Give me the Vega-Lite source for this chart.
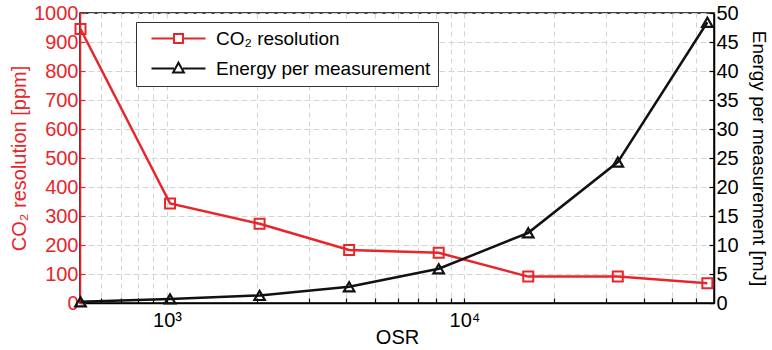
{
  "$schema": "https://vega.github.io/schema/vega-lite/v6.json",
  "autosize": {"type": "none"},
  "width": 634,
  "height": 290,
  "padding": {"left": 80, "top": 13, "right": 58, "bottom": 47},
  "config": {
    "font": "Liberation Sans",
    "view": {"stroke": "black", "strokeWidth": 1.5},
    "axis": {
      "labelFontSize": 20,
      "titleFontSize": 20,
      "titleFontWeight": "normal",
      "gridColor": "#d4d4d4",
      "gridDash": [5, 4],
      "gridWidth": 1,
      "tickSize": -5,
      "tickWidth": 1.2,
      "domainWidth": 1.5
    }
  },
  "data": {
    "values": [
      {"osr": 512, "co2": 945, "energy": 0.2},
      {"osr": 1024, "co2": 343, "energy": 0.7},
      {"osr": 2048, "co2": 273, "energy": 1.3},
      {"osr": 4096, "co2": 183, "energy": 2.8},
      {"osr": 8192, "co2": 173, "energy": 5.9},
      {"osr": 16384, "co2": 91, "energy": 12.1},
      {"osr": 32768, "co2": 91, "energy": 24.3},
      {"osr": 65536, "co2": 68, "energy": 48.4}
    ]
  },
  "encoding": {
    "x": {
      "field": "osr",
      "type": "quantitative",
      "scale": {"type": "log", "domain": [510, 69000], "nice": false},
      "axis": {
        "title": "OSR",
        "titleColor": "black",
        "titlePadding": -3,
        "labelPadding": 12,
        "domainColor": "black",
        "tickColor": "black",
        "labelColor": "black",
        "values": [600, 700, 800, 900, 1000, 2000, 3000, 4000, 5000, 6000, 7000, 8000, 9000, 10000, 20000, 30000, 40000, 50000, 60000],
        "labelExpr": "datum.value == 1000 ? '10³' : (datum.value == 10000 ? '10⁴' : '')"
      }
    }
  },
  "layer": [
    {
      "encoding": {
        "y": {
          "field": "co2",
          "type": "quantitative",
          "scale": {"domain": [0, 1000], "nice": false},
          "axis": {
            "title": "CO₂ resolution [ppm]",
            "orient": "left",
            "format": "d",
            "domainColor": "#e8262a",
            "tickColor": "#e8262a",
            "labelColor": "#e8262a",
            "titleColor": "#e8262a",
            "values": [0, 100, 200, 300, 400, 500, 600, 700, 800, 900, 1000],
            "labelPadding": 7,
            "titlePadding": 4
          }
        },
        "color": {
          "datum": "CO₂ resolution",
          "scale": {"domain": ["CO₂ resolution", "Energy per measurement"], "range": ["#e8262a", "#111111"]},
          "legend": {
            "title": null,
            "orient": "none",
            "legendX": 56,
            "legendY": 9,
            "strokeColor": "#333333",
            "fillColor": "white",
            "padding": 7,
            "labelFontSize": 19,
            "labelLimit": 0,
            "labelColor": "black",
            "symbolSize": 81,
            "symbolStrokeWidth": 2,
            "symbolOffset": 26,
            "labelOffset": 28,
            "rowPadding": 9,
            "encode": {
              "symbols": {
                "update": {
                  "shape": {"signal": "datum.value == 'CO₂ resolution' ? 'M-6,0H-1M1,0H6M-1,-1H1V1H-1Z' : 'M-6,0H-1M1,0H6M0,-1.3L1.2,0.9H-1.2Z'"},
                  "fill": {"value": "transparent"}
                }
              }
            }
          }
        }
      },
      "layer": [
        {"mark": {"type": "line", "strokeWidth": 2.5}},
        {"mark": {"type": "point", "shape": "square", "filled": false, "size": 100, "strokeWidth": 2, "opacity": 1}}
      ]
    },
    {
      "encoding": {
        "y": {
          "field": "energy",
          "type": "quantitative",
          "scale": {"domain": [0, 50], "nice": false},
          "axis": {
            "title": "Energy per measurement [mJ]",
            "orient": "right",
            "grid": true,
            "domainColor": "black",
            "tickColor": "black",
            "labelColor": "black",
            "titleColor": "black",
            "titleFontSize": 19,
            "values": [0, 5, 10, 15, 20, 25, 30, 35, 40, 45, 50],
            "labelPadding": 7,
            "titlePadding": 10
          }
        },
        "color": {"datum": "Energy per measurement"}
      },
      "layer": [
        {"mark": {"type": "line", "strokeWidth": 2.5}},
        {"mark": {"type": "point", "shape": "triangle-up", "filled": false, "size": 110, "strokeWidth": 2.2, "opacity": 1}}
      ]
    }
  ],
  "resolve": {"scale": {"y": "independent"}}
}
